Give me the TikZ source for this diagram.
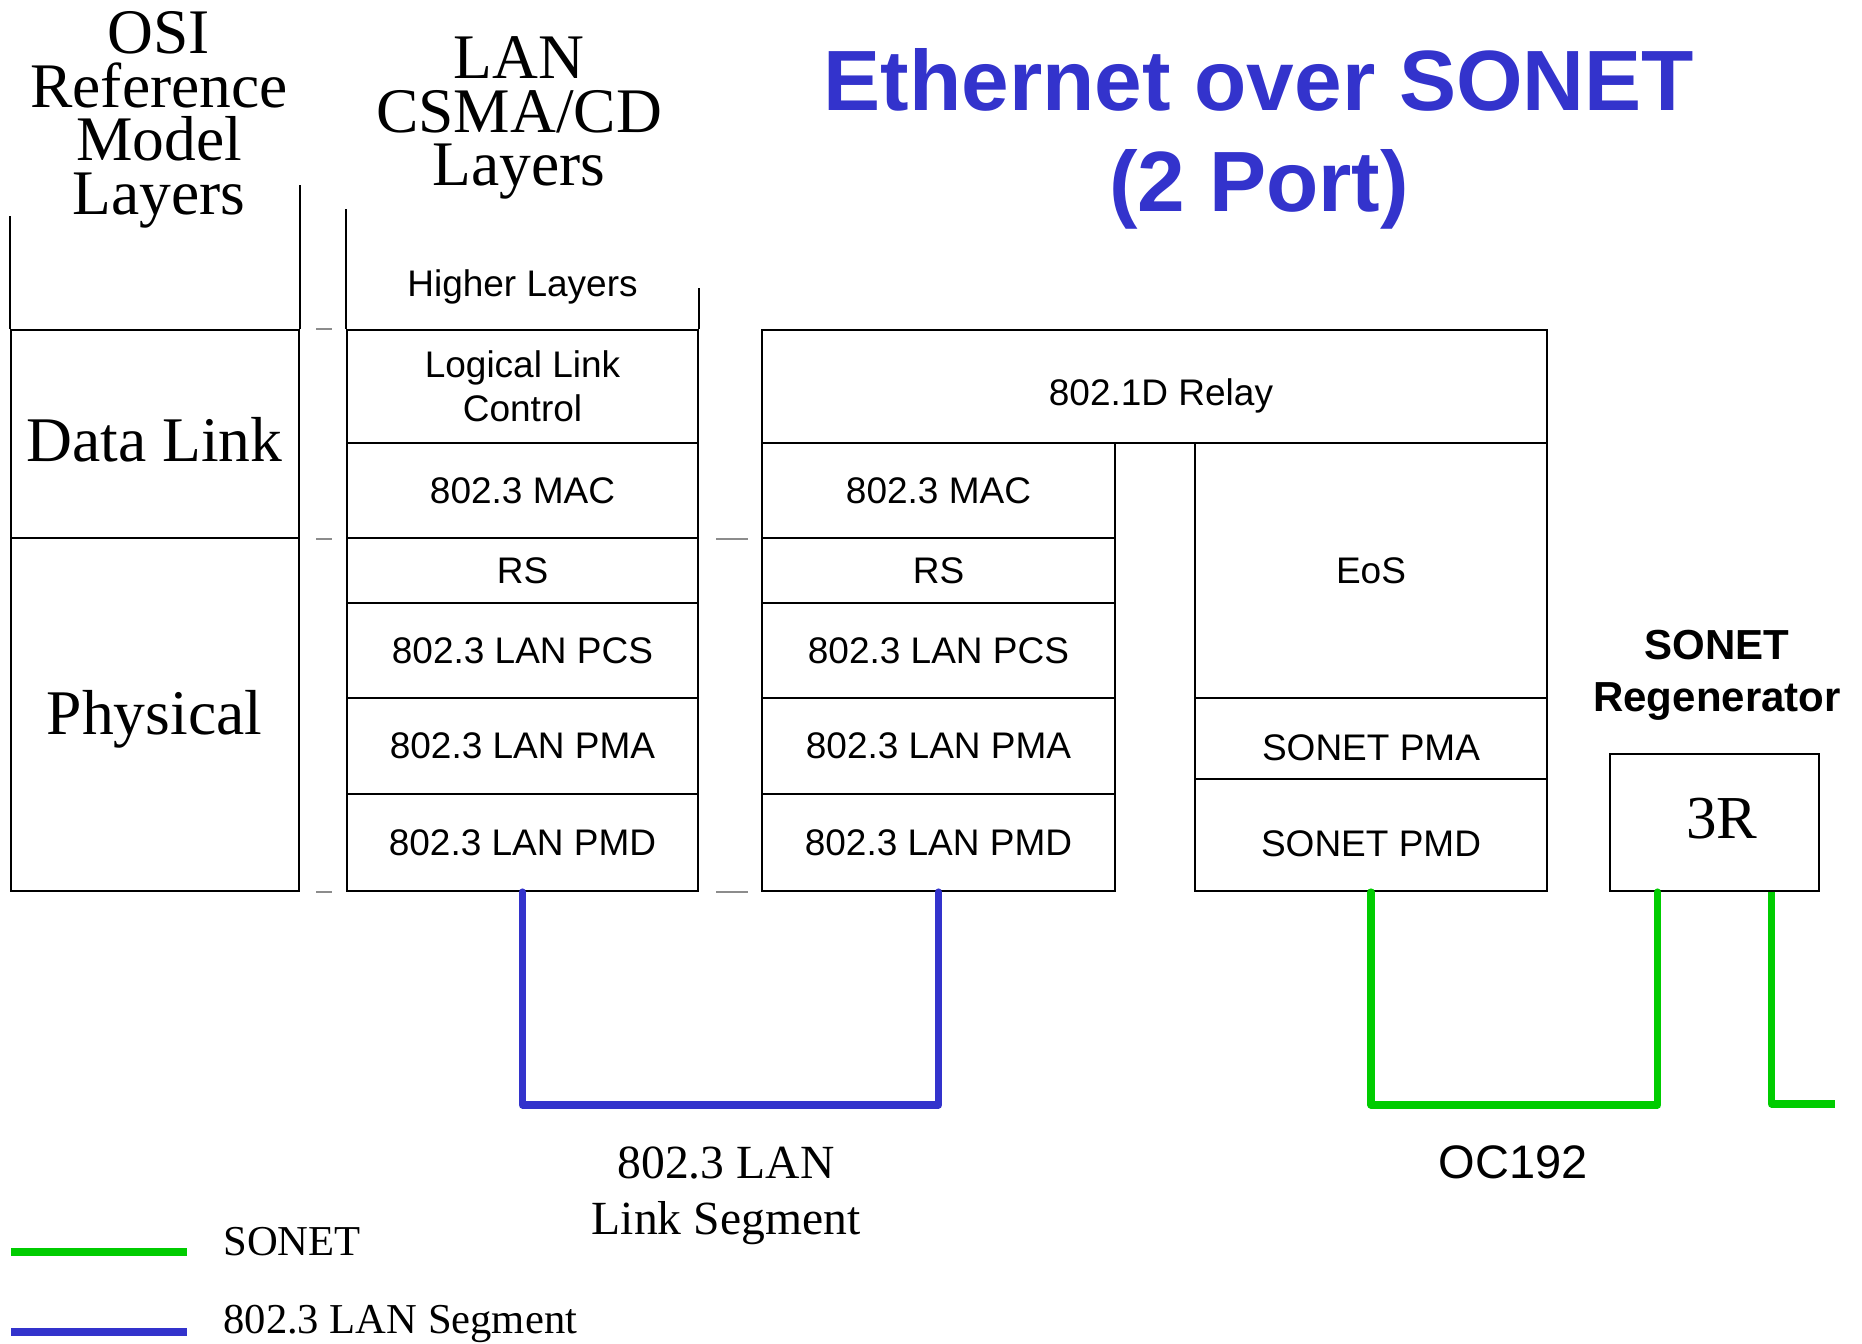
\documentclass[tikz,border=0pt]{standalone}
\usepackage{fontspec}
\setmainfont{Liberation Serif}
\newfontfamily\arialf{Liberation Sans}
\usetikzlibrary{calc}
\definecolor{lanblue}{HTML}{3333CC}
\definecolor{sonetgreen}{HTML}{00CC00}
\definecolor{dashgray}{HTML}{8C8C8C}
\tikzset{
  cell/.style={draw, line width=1pt, inner sep=0pt, align=center, font=\arialf\fontsize{18.5}{22}\selectfont},
  osicell/.style={cell, font=\fontsize{31.8}{36}\selectfont},
  sanstext/.style={inner sep=0pt, align=center, font=\arialf\fontsize{18.5}{22}\selectfont},
  serifcelltext/.style={inner sep=0pt, align=center, font=\fontsize{31.8}{36}\selectfont},
  bigserif/.style={inner sep=0pt, align=center, font=\fontsize{31.75}{26.75}\selectfont},
  titletext/.style={inner sep=0pt, align=center, text=lanblue, font=\arialf\bfseries\fontsize{42.8}{50.5}\selectfont},
  regentext/.style={inner sep=0pt, align=center, font=\arialf\bfseries\fontsize{21}{26}\selectfont},
  lanline/.style={draw=lanblue, line width=3.6pt, line join=round, line cap=round},
  sonetline/.style={draw=sonetgreen, line width=3.6pt, line join=round, line cap=round},
  frameline/.style={line width=1pt},
  sepdash/.style={draw=dashgray, line width=0.8pt},
}
\newcommand\mkcell[7]{\node[#7, minimum width={(#4-#2)*0.5pt}, minimum height={(#5-#3)*0.5pt}] (#1) at ({(#2+#4)/2},{(#3+#5)/2}) {#6};}
\begin{document}
\begin{tikzpicture}[x=0.5pt,y=-0.5pt]
\useasboundingbox (0,0) rectangle (1862,1343);

% title
\node[titletext] (title) at (1259,139) {Ethernet over SONET\\(2 Port)};

% OSI column
\node[bigserif] (osititle) at (159,120) {OSI\\Reference\\Model\\Layers};
\mkcell{osidl}{11}{330}{299}{538}{}{osicell}
\mkcell{osiphy}{11}{538}{299}{891}{}{osicell}
\node[serifcelltext] (osidltext) at (154.5,440) {Data Link};
\node[serifcelltext] (osiphytext) at (154.5,719) {Physical};
\draw[frameline] (osidl.north west) -- ++(0,-113);
\draw[frameline] (osidl.north east) -- ++(0,-144);

% LAN column
\node[bigserif] (lantitle) at (519,118) {LAN\\CSMA/CD\\Layers};
\mkcell{lanllc}{347}{330}{698}{443}{Logical Link\\Control}{cell}
\mkcell{lanmac}{347}{443}{698}{538}{802.3 MAC}{cell}
\mkcell{lanrs}{347}{538}{698}{603}{RS}{cell}
\mkcell{lanpcs}{347}{603}{698}{698}{802.3 LAN PCS}{cell}
\mkcell{lanpma}{347}{698}{698}{794}{802.3 LAN PMA}{cell}
\mkcell{lanpmd}{347}{794}{698}{891}{802.3 LAN PMD}{cell}
\draw[frameline] (lanllc.north west) -- ++(0,-120);
\draw[frameline] (lanllc.north east) -- ++(0,-41);
\node[sanstext] (higher) at (522.5,287) {Higher Layers};

% separator dashes
\draw[sepdash] ($(osidl.north east)+(16,0)$) -- ++(16,0);
\draw[sepdash] ($(osidl.south east)+(16,0)$) -- ++(16,0);
\draw[sepdash] ($(osiphy.south east)+(16,0)$) -- ++(16,0);
\draw[sepdash] ($(lanmac.south east)+(17,0)$) -- ++(32,0);
\draw[sepdash] ($(lanpmd.south east)+(17,0)$) -- ++(32,0);

% bridge middle column
\mkcell{relay}{762}{330}{1547}{443}{}{cell}
\node[sanstext] (relaytext) at (1161,396) {802.1D Relay};
\mkcell{midmac}{762}{443}{1115}{538}{802.3 MAC}{cell}
\mkcell{midrs}{762}{538}{1115}{603}{RS}{cell}
\mkcell{midpcs}{762}{603}{1115}{698}{802.3 LAN PCS}{cell}
\mkcell{midpma}{762}{698}{1115}{794}{802.3 LAN PMA}{cell}
\mkcell{midpmd}{762}{794}{1115}{891}{802.3 LAN PMD}{cell}

% SONET side
\mkcell{eos}{1195}{443}{1547}{698}{EoS}{cell}
\mkcell{sonetpma}{1195}{698}{1547}{779}{}{cell}
\mkcell{sonetpmd}{1195}{779}{1547}{891}{}{cell}
\node[sanstext] (sonetpmatext) at (1371,748) {SONET PMA};
\node[sanstext] (sonetpmdtext) at (1371,844) {SONET PMD};

% regenerator
\node[regentext] (regentitle) at (1717,675) {SONET\\Regenerator};
\mkcell{regen}{1610}{754}{1819}{891}{}{osicell}
\node[serifcelltext, font=\fontsize{30.5}{36}\selectfont] (regentext) at (1722,819) {3R};

% links
\draw[lanline] (lanpmd.south) -- ++(0,213) -| (midpmd.south);
\coordinate (regenin) at ($(regen.south west)!0.23!(regen.south east)$);
\coordinate (regenout) at ($(regen.south west)!0.77!(regen.south east)$);
\coordinate (outend) at (1835,1104);
\draw[sonetline] (sonetpmd.south) -- ++(0,213) -| (regenin);
\draw[sonetline, line cap=butt] (regenout) |- (outend);

\node[inner sep=0pt, align=center, font=\fontsize{23.8}{28}\selectfont] (lanseg) at (726,1196) {802.3 LAN\\Link Segment};
\node[inner sep=0pt, anchor=base, font=\arialf\fontsize{23.5}{28}\selectfont] (oc) at (1513,1178) {OC192};

% legend
\coordinate (lg1a) at (11,1252);
\coordinate (lg1b) at (187,1252);
\coordinate (lg2a) at (11,1332);
\coordinate (lg2b) at (187,1332);
\draw[sonetline, line cap=butt] (lg1a) -- (lg1b);
\draw[lanline, line cap=butt] (lg2a) -- (lg2b);
\node[inner sep=0pt, anchor=base west, font=\fontsize{21.3}{26}\selectfont] (lgt1) at (223,1255) {SONET};
\node[inner sep=0pt, anchor=base west, font=\fontsize{21.3}{26}\selectfont] (lgt2) at (223,1333) {802.3 LAN Segment};
\end{tikzpicture}
\end{document}
